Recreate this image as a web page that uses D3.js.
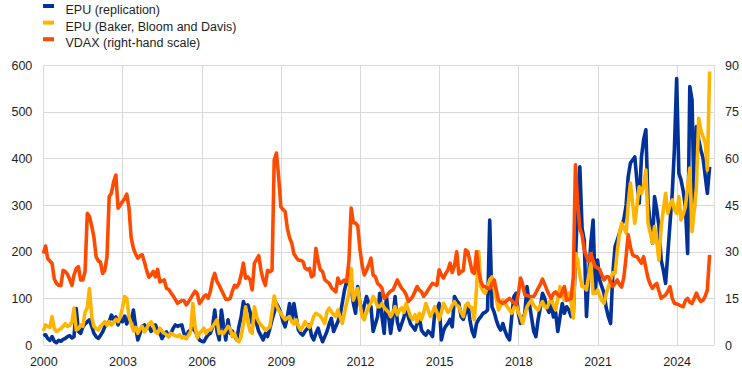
<!DOCTYPE html>
<html>
<head>
<meta charset="utf-8">
<script src="https://cdn.jsdelivr.net/npm/d3@7"></script>
<style>
    body { margin: 0; background: #fff; }
    svg text { font-family: "Liberation Sans", Arial, sans-serif; }
</style>
</head>
<body>
<div id="chart-div"></div>
<script>

//**********************************************************************************************
//                                      DATA
//**********************************************************************************************
// monthly observations, January 2000 to April 2025
const START_YEAR = 2000

const seriesNames = ["EPU (replication)", "EPU (Baker, Bloom and Davis)", "VDAX (right-hand scale)"]
const seriesColors = ["#003299", "#ffb400", "#ff4b00"]

const epuReplication = [
    20, 22, 14, 10, 18, 8, 5, 10, 8, 12, 14, 18,            // 2000
    20, 15, 18, 78, 29, 25, 39, 45, 50, 54, 40, 25,         // 2001
    18, 14, 20, 28, 39, 45, 50, 64, 55, 60, 43, 55,         // 2002
    50, 62, 45, 60, 50, 75, 40, 11, 25, 40, 43, 37,         // 2003
    40, 29, 35, 43, 30, 25, 14, 22, 28, 18, 25, 35,         // 2004
    43, 40, 42, 43, 25, 14, 29, 32, 36, 30, 20, 11,         // 2005
    8, 7, 15, 22, 25, 39, 75, 30, 11, 75, 40, 11,           // 2006
    54, 25, 30, 20, 11, 40, 60, 93, 80, 86, 71, 46,         // 2007
    64, 45, 29, 20, 11, 25, 18, 35, 54, 70, 89, 80,         // 2008
    68, 50, 39, 60, 89, 54, 89, 60, 32, 25, 21, 29,         // 2009
    35, 43, 20, 11, 25, 36, 20, 7, 18, 29, 45, 57,          // 2010
    29, 40, 50, 64, 90, 118, 136, 130, 125, 90, 68, 125,    // 2011
    90, 68, 85, 104, 90, 82, 29, 45, 61, 111, 60, 25,       // 2012
    104, 60, 25, 60, 104, 50, 32, 46, 60, 82, 60, 45,       // 2013
    39, 32, 45, 61, 32, 25, 21, 30, 25, 18, 68, 75,         // 2014
    89, 11, 30, 40, 46, 55, 39, 104, 95, 89, 61, 55,        // 2015
    70, 89, 54, 30, 18, 46, 55, 61, 68, 70, 75, 268,        // 2016
    82, 70, 54, 40, 32, 46, 30, 18, 11, 60, 104, 111,       // 2017
    68, 46, 55, 68, 125, 90, 61, 30, 18, 54, 80, 111,       // 2018
    100, 80, 70, 90, 60, 70, 29, 60, 89, 68, 82, 75,        // 2019
    61, 70, 182, 300, 382, 250, 225, 61, 150, 220, 268, 111,    // 2020
    182, 139, 125, 111, 80, 60, 46, 154, 211, 225, 240, 255,    // 2021
    270, 300, 360, 390, 396, 403, 350, 304, 403, 440, 461, 304, // 2022
    260, 218, 318, 290, 254, 182, 160, 132, 196, 260, 325, 420, // 2023
    571, 368, 354, 330, 296, 196, 554, 525, 289, 468, 440, 418, // 2024
    400, 360, 325, 382                                          // 2025
]

const epuBBD = [
    30, 43, 40, 38, 61, 35, 29, 32, 35, 40, 46, 40,         // 2000
    42, 50, 79, 32, 35, 43, 40, 70, 80, 121, 60, 40,        // 2001
    35, 32, 40, 45, 50, 42, 50, 43, 48, 55, 50, 60,         // 2002
    80, 104, 100, 60, 46, 30, 38, 25, 35, 40, 28, 35,       // 2003
    45, 50, 40, 28, 25, 36, 30, 25, 22, 18, 25, 22,         // 2004
    20, 18, 22, 15, 18, 14, 20, 29, 89, 40, 15, 25,         // 2005
    30, 36, 25, 32, 32, 40, 46, 54, 25, 28, 25, 32,         // 2006
    40, 35, 18, 25, 10, 7, 18, 45, 82, 50, 30, 25,          // 2007
    82, 60, 50, 43, 38, 32, 35, 39, 70, 105, 85, 75,        // 2008
    68, 60, 54, 58, 61, 50, 45, 54, 40, 32, 40, 50,         // 2009
    42, 38, 46, 61, 68, 65, 62, 55, 46, 71, 79, 72,         // 2010
    65, 61, 75, 60, 46, 70, 90, 111, 164, 96, 110, 121,     // 2011
    90, 60, 54, 70, 82, 90, 104, 95, 82, 82, 89, 80,        // 2012
    75, 70, 61, 70, 82, 65, 75, 80, 70, 89, 75, 61,         // 2013
    55, 65, 50, 68, 55, 70, 89, 75, 61, 70, 82, 70,         // 2014
    54, 70, 89, 80, 70, 75, 85, 93, 85, 82, 70, 61,         // 2015
    85, 89, 82, 80, 54, 120, 200, 125, 115, 111, 125, 140,  // 2016
    146, 118, 100, 75, 85, 96, 90, 82, 75, 68, 80, 89,      // 2017
    70, 60, 46, 65, 82, 90, 96, 85, 80, 75, 85, 93,         // 2018
    82, 80, 90, 100, 85, 75, 100, 125, 110, 96, 100, 111,   // 2019
    90, 58, 196, 182, 150, 125, 125, 118, 150, 175, 110, 111,   // 2020
    118, 105, 95, 89, 110, 125, 139, 155, 154, 200, 240, 261,   // 2021
    250, 240, 300, 347, 304, 261, 300, 339, 325, 340, 375, 261, // 2022
    240, 218, 254, 220, 182, 254, 290, 325, 282, 300, 311, 290, // 2023
    282, 318, 268, 280, 296, 340, 379, 243, 290, 339, 486, 460, // 2024
    446, 432, 375, 586                                          // 2025
]

const vdax = [
    29.4, 31.8, 27.8, 27.0, 26.3, 21.2, 19.8, 19.2, 19.1, 24.0, 23.6, 22.8,  // 2000
    21.0, 19.2, 22.5, 24.6, 25.2, 20.9, 20.9, 23.6, 42.3, 41.3, 38.3, 34.8,  // 2001
    28.4, 27.0, 26.7, 23.0, 24.0, 28.4, 47.7, 48.8, 52.5, 54.6, 44.0, 45.0,  // 2002
    46.1, 47.1, 48.5, 44.0, 34.5, 31.1, 29.3, 27.9, 28.7, 29.0, 26.7, 24.0,  // 2003
    21.8, 22.5, 23.7, 21.9, 24.3, 20.3, 20.6, 20.9, 18.2, 17.9, 16.8, 15.8,  // 2004
    14.7, 13.4, 13.8, 14.3, 14.3, 12.9, 13.8, 15.0, 16.2, 17.3, 16.5, 13.4,  // 2005
    14.3, 15.6, 16.1, 15.0, 17.3, 21.0, 23.0, 20.4, 19.2, 17.7, 16.2, 14.7,  // 2006
    14.7, 15.0, 17.3, 19.2, 18.6, 19.8, 22.5, 26.3, 21.5, 21.9, 21.0, 17.7,  // 2007
    26.3, 27.5, 28.7, 24.0, 21.0, 19.2, 24.0, 23.6, 24.0, 59.4, 61.7, 54.2,  // 2008
    44.4, 43.5, 42.9, 37.5, 34.5, 32.7, 29.3, 28.2, 27.3, 27.2, 26.9, 24.8,  // 2009
    24.2, 24.6, 21.9, 22.5, 31.1, 27.0, 24.2, 23.6, 21.0, 20.4, 19.8, 18.5,  // 2010
    17.7, 17.1, 21.5, 19.8, 20.3, 20.9, 20.4, 27.0, 44.0, 39.3, 39.2, 38.3,  // 2011
    30.6, 25.5, 22.5, 24.0, 25.8, 27.9, 22.5, 21.9, 19.8, 19.2, 18.2, 15.0,  // 2012
    15.6, 16.7, 17.3, 17.7, 19.2, 20.9, 19.5, 18.2, 17.4, 16.2, 14.0, 14.7,  // 2013
    15.6, 17.3, 18.8, 17.7, 17.1, 15.6, 16.5, 17.7, 18.8, 19.8, 19.5, 19.2,  // 2014
    24.2, 22.5, 21.5, 23.0, 24.0, 26.3, 23.3, 25.5, 30.0, 22.8, 23.6, 24.0,  // 2015
    30.6, 30.0, 27.0, 23.6, 23.0, 30.0, 23.6, 20.3, 18.8, 18.8, 18.2, 18.2,  // 2016
    19.5, 20.9, 17.7, 14.4, 13.8, 13.4, 13.8, 14.4, 15.0, 14.3, 13.5, 12.9,  // 2017
    16.5, 21.5, 19.5, 16.1, 15.9, 15.6, 15.6, 15.6, 16.8, 18.2, 19.5, 21.2,  // 2018
    19.5, 17.7, 16.2, 15.0, 16.5, 17.1, 16.2, 15.6, 17.3, 18.8, 14.4, 14.7,  // 2019
    15.0, 21.9, 57.9, 45.6, 37.5, 35.4, 30.6, 28.5, 26.9, 29.4, 27.0, 25.2,  // 2020
    24.8, 24.2, 22.5, 20.9, 21.9, 21.9, 20.3, 18.8, 19.8, 20.9, 19.5, 18.6,  // 2021
    21.9, 28.5, 35.4, 31.5, 29.0, 28.5, 28.4, 27.3, 26.3, 28.4, 24.8, 21.5,  // 2022
    19.5, 18.2, 19.2, 19.8, 17.3, 15.0, 15.6, 16.1, 17.3, 18.8, 15.0, 13.4,  // 2023
    13.2, 12.9, 12.6, 12.3, 14.3, 15.0, 13.8, 13.4, 15.0, 16.7, 15.0, 14.0,  // 2024
    14.4, 15.8, 17.7, 29.0                                                   // 2025
]

const leftTicks = [0, 100, 200, 300, 400, 500, 600]
const rightTicks = [0, 15, 30, 45, 60, 75, 90]
const yearTicks = [2000, 2003, 2006, 2009, 2012, 2015, 2018, 2021, 2024]


//**********************************************************************************************
//                                      CONSTANTS
//**********************************************************************************************
const WIDTH = 742
const HEIGHT = 371
const PLOT_LEFT = 43.3
const PLOT_RIGHT = 714
const PLOT_TOP = 65
const PLOT_BOTTOM = 345
const FONT_SIZE = "12.5px"
const TEXT_COLOR = "#1e1e1e"
const GRID_COLOR = "#d9d9d9"
const LINE_WIDTH = 3.6


//**********************************************************************************************
//                                  GENERAL SET UP
//**********************************************************************************************
const svg = d3.select("#chart-div").append("svg")
    .attr("width", WIDTH)
    .attr("height", HEIGHT)

const x_scale = d3.scaleTime()
    .domain([new Date(START_YEAR, 0, 1), new Date(2025, 5, 1)])
    .range([PLOT_LEFT, PLOT_RIGHT])

const y_left = d3.scaleLinear()
    .domain([0, 600])
    .range([PLOT_BOTTOM, PLOT_TOP])

const y_right = d3.scaleLinear()
    .domain([0, 90])
    .range([PLOT_BOTTOM, PLOT_TOP])

const toPoints = arr => arr.map((v, i) => ({date: new Date(START_YEAR, i, 1), value: v}))

//gridlines
const grid = svg.append("g").attr("shape-rendering", "crispEdges")
grid.selectAll(".hgrid")
    .data(leftTicks)
    .enter().append("line")
    .attr("x1", PLOT_LEFT).attr("x2", PLOT_RIGHT)
    .attr("y1", d => Math.round(y_left(d)) + 0.5)
    .attr("y2", d => Math.round(y_left(d)) + 0.5)
    .style("stroke", GRID_COLOR)
grid.selectAll(".vgrid")
    .data(yearTicks.map(y => x_scale(new Date(y, 0, 1))).concat([PLOT_RIGHT]))
    .enter().append("line")
    .attr("x1", d => Math.round(d) + 0.5).attr("x2", d => Math.round(d) + 0.5)
    .attr("y1", PLOT_TOP).attr("y2", PLOT_BOTTOM)
    .style("stroke", GRID_COLOR)

//axes (labels only)
const styleAxis = g => {
    g.select(".domain").remove()
    g.attr("font-family", null).attr("font-size", null)
    g.selectAll("text").style("font-size", FONT_SIZE).style("fill", TEXT_COLOR)
}

svg.append("g")
    .attr("transform", `translate(${PLOT_LEFT},0)`)
    .call(d3.axisLeft(y_left).tickValues(leftTicks).tickSize(0).tickPadding(11))
    .call(styleAxis)

svg.append("g")
    .attr("transform", `translate(${PLOT_RIGHT},0)`)
    .call(d3.axisRight(y_right).tickValues(rightTicks).tickSize(0).tickPadding(11))
    .call(styleAxis)

svg.append("g")
    .attr("transform", `translate(0,${PLOT_BOTTOM})`)
    .call(d3.axisBottom(x_scale)
        .tickValues(yearTicks.map(y => new Date(y, 0, 1)))
        .tickFormat(d3.timeFormat("%Y"))
        .tickSize(0).tickPadding(12))
    .call(styleAxis)


//**********************************************************************************************
//                                      LINES
//**********************************************************************************************
const leftLine = d3.line().x(d => x_scale(d.date)).y(d => y_left(d.value))
const rightLine = d3.line().x(d => x_scale(d.date)).y(d => y_right(d.value))

const lines = [
    {data: toPoints(epuReplication), gen: leftLine, color: seriesColors[0]},
    {data: toPoints(epuBBD), gen: leftLine, color: seriesColors[1]},
    {data: toPoints(vdax), gen: rightLine, color: seriesColors[2]}
]

for (let l of lines){
    svg.append("path")
        .datum(l.data)
        .attr("d", l.gen)
        .style("fill", "none")
        .style("stroke", l.color)
        .style("stroke-width", LINE_WIDTH)
        .style("stroke-linejoin", "round")
}


//**********************************************************************************************
//                                      LEGEND
//**********************************************************************************************
const legend = svg.append("g")
const legendRow = d3.scaleLinear().domain([0, 1]).range([0, 16.6])

legend.selectAll("rect")
    .data(seriesNames)
    .enter().append("rect")
    .attr("x", 43)
    .attr("y", (d, i) => 4 + legendRow(i))
    .attr("width", 11)
    .attr("height", 4)
    .style("fill", (d, i) => seriesColors[i])

legend.selectAll("text")
    .data(seriesNames)
    .enter().append("text")
    .attr("x", 65.5)
    .attr("y", (d, i) => 14 + legendRow(i))
    .style("font-size", FONT_SIZE)
    .style("fill", TEXT_COLOR)
    .text(d => d)

</script>
</body>
</html>
